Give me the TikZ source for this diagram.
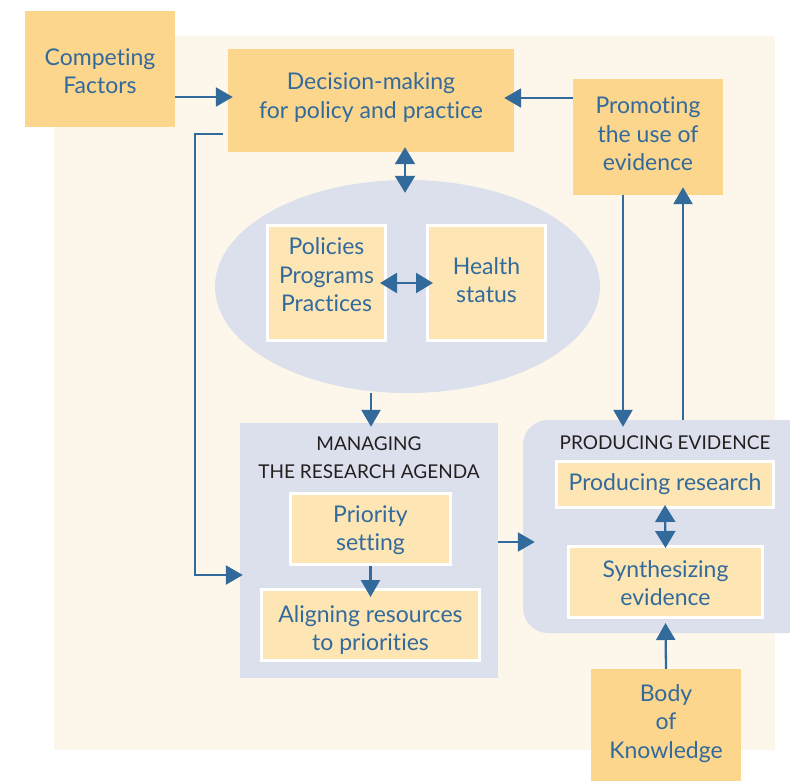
\documentclass[tikz,border=0pt]{standalone}
\usepackage{fontspec}
\setmainfont{Lato}[Ligatures={NoCommon}]
\usetikzlibrary{arrows.meta,calc,shapes.geometric}
\definecolor{bgbeige}{HTML}{FDF6EA}
\definecolor{boxor}{HTML}{FCD68C}
\definecolor{boxlt}{HTML}{FDE5B4}
\definecolor{lav}{HTML}{DCE0ED}
\definecolor{tblue}{HTML}{336A9C}
\definecolor{tdark}{HTML}{231F20}
\begin{document}
\begin{tikzpicture}[x=1pt,y=-1pt,
  otext/.style={text=tblue, align=center, inner sep=0pt, font=\fontsize{23}{28.5}\selectfont},
  obox/.style={fill=boxor, inner sep=0pt},
  ibox/.style={fill=boxlt, draw=white, line width=3pt, inner sep=0pt},
  ttl/.style={text=tdark, align=center, inner sep=0pt, font=\fontsize{19}{28}\selectfont},
  lavbox/.style={fill=lav, inner sep=0pt},
  arr/.style={draw=tblue, line width=2.3pt, -{Triangle[length=17pt,width=19pt]}},
  darr/.style={draw=tblue, line width=2.3pt, {Triangle[length=17pt,width=20pt]}-{Triangle[length=17pt,width=20pt]}},
]
\clip (0,0) rectangle (790,780);
\fill[white] (0,0) rectangle (790,780);
\fill[bgbeige] (54,36) rectangle (775,750);

% top row
\node[obox, minimum width=150, minimum height=116,
  label={[otext, yshift=-2pt]center:{Competing\\Factors}}] (comp) at (100,69) {};
\node[obox, minimum width=286, minimum height=103,
  label={[otext, yshift=3pt]center:{Decision-making\\for policy and practice}}] (dec) at (371,100.5) {};
\node[obox, minimum width=150, minimum height=116,
  label={[otext, yshift=3pt]center:{Promoting\\the use of\\evidence}}] (prom) at (648,137) {};

% ellipse
\node[ellipse, lavbox, minimum width=385, minimum height=213] (ell) at (407.5,286.5) {};
\node[ibox, minimum width=118, minimum height=115,
  label={[otext, yshift=8pt]center:{Policies\\Programs\\Practices}}] (pol) at (326.5,283) {};
\node[ibox, minimum width=118, minimum height=115,
  label={[otext, yshift=3pt]center:{Health\\status}}] (hea) at (486.5,283) {};

% managing
\node[lavbox, minimum width=258, minimum height=255] (man) at (369,550.5) {};
\node[ttl] (mant) at (369,458) {MANAGING\\THE RESEARCH AGENDA};
\node[ibox, minimum width=160, minimum height=71,
  label={[otext, yshift=-1pt]center:{Priority\\setting}}] (pri) at (370.5,529) {};
\node[ibox, minimum width=218, minimum height=71,
  label={[otext, yshift=-5pt]center:{Aligning resources\\to priorities}}] (ali) at (370.5,625) {};

% producing evidence
\node[lavbox, rounded corners=25pt, minimum width=330, minimum height=213] (prod) at (688,526.5) {};
\node[ttl] (prodt) at (665,443) {PRODUCING EVIDENCE};
\node[ibox, minimum width=217, minimum height=46,
  label={[otext]center:{Producing research}}] (pres) at (665,484.5) {};
\node[ibox, minimum width=194, minimum height=71,
  label={[otext, yshift=-1pt]center:{Synthesizing\\evidence}}] (syn) at (665.5,582) {};

% body of knowledge
\node[obox, minimum width=150, minimum height=125,
  label={[otext, yshift=8pt]center:{Body\\of\\Knowledge}}] (body) at (666,731.5) {};

% connectors
\draw[arr] (comp.east |- 0,97) -- ($(dec.west |- 0,97)+(5,0)$);
\draw[arr] (prom.west |- 0,98) -- ($(dec.east |- 0,98)+(-10,0)$);
\draw[arr] ($(dec.west |- 0,134)+(-5,0)$) -- (195,134) -- (195,575) -- ($(man.west |- 0,575)+(3,0)$);
\draw[darr] ($(dec.south -| 405,0)+(0,-5)$) -- ($(ell.north -| 405,0)+(0,13)$);
\draw[darr] ($(pol.east)+(-7,0)$) -- ($(hea.west)+(7,0)$);
\draw[arr] (ell.south -| 371,0) -- ($(man.north -| 371,0)+(0,4)$);
\draw[arr] (pri.south) -- ($(ali.north)+(0,9)$);
\draw[arr] (man.east |- 0,542) -- ($(prod.west |- 0,542)+(12,0)$);
\draw[arr] (prom.south -| 623,0) -- ($(prod.north -| 623,0)+(0,7)$);
\draw[arr] (prod.north -| 683,0) -- ($(prom.south -| 683,0)+(0,-8)$);
\draw[darr] ($(pres.south)+(0,-4)$) -- ($(syn.north)+(0,3)$);
\draw[arr] (body.north) -- ($(syn.south)+(0,4)$);
\end{tikzpicture}
\end{document}
